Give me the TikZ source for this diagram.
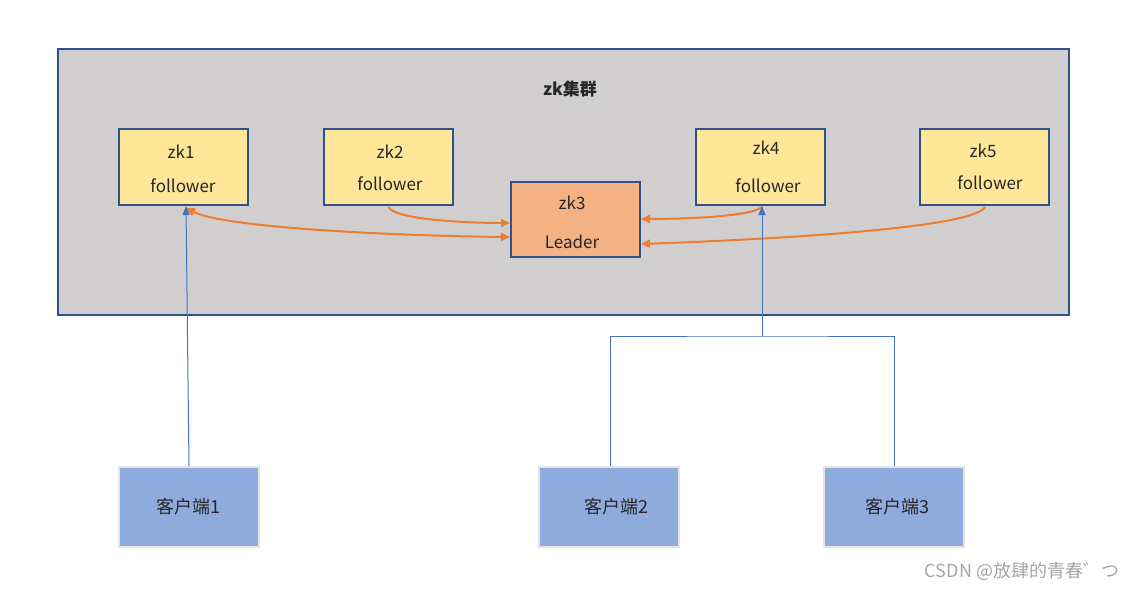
\documentclass[tikz,border=0pt]{standalone}
\usepackage{fontspec}
\setmainfont{Noto Sans CJK SC}
\usetikzlibrary{arrows.meta}
\definecolor{clusterfill}{HTML}{D0CECE}
\definecolor{darkblue}{HTML}{2F528F}
\definecolor{zkyellow}{HTML}{FFE699}
\definecolor{zkorange}{HTML}{F4B183}
\definecolor{linkorange}{HTML}{ED7D31}
\definecolor{linkblue}{HTML}{4472C4}
\definecolor{clientfill}{HTML}{8FAADC}
\definecolor{clientborder}{HTML}{E4E4E4}
\definecolor{markgray}{HTML}{A6A6A6}
\tikzset{
  cluster/.style={draw=darkblue, fill=clusterfill, line width=2pt, minimum width=1011pt, minimum height=266pt, inner sep=0pt},
  zkbox/.style={draw=darkblue, fill=zkyellow, line width=2pt, minimum width=129pt, minimum height=76pt, inner sep=0pt},
  leaderbox/.style={zkbox, fill=zkorange, minimum height=75pt},
  clientbox/.style={draw=clientborder, fill=clientfill, line width=2pt, minimum width=140pt, minimum height=80pt, inner sep=0pt, font=\fontsize{18}{21}\selectfont, text=black!85},
  txt/.style={inner sep=0pt, font=\fontsize{17}{20}\selectfont, text=black!85},
  orangelink/.style={draw=linkorange, line width=2pt, -{Triangle[length=9pt,width=8pt]}},
  bothlink/.style={draw=linkorange, line width=2pt, {Triangle[length=9pt,width=8pt]}-{Triangle[length=9pt,width=8pt]}},
  bluelink/.style={draw=linkblue, line width=1pt, -{Triangle[length=9pt,width=7pt]}},
  blueline/.style={draw=linkblue, line width=1pt},
}
\begin{document}
\begin{tikzpicture}[x=1pt, y=-1pt]
\useasboundingbox[fill=white] (0,0) rectangle (1142,591);
\node[cluster] (cl) at (563.5,182) {};
\node[txt, font=\fontsize{17}{20}\selectfont\bfseries] (title) at (570,89) {zk集群};

\node[zkbox] (zk1) at (183.5,167) {};
\node[zkbox] (zk2) at (388.5,167) {};
\node[leaderbox] (zk3) at (575.5,219.5) {};
\node[zkbox] (zk4) at (760.5,167) {};
\node[zkbox] (zk5) at (984.5,167) {};

\node[txt] (zk1a) at (181,152) {zk1};
\node[txt] (zk1b) at (183,186) {follower};
\node[txt] (zk2a) at (390,152) {zk2};
\node[txt] (zk2b) at (390,184) {follower};
\node[txt] (zk3a) at (572,203) {zk3};
\node[txt] (zk3b) at (572,242) {Leader};
\node[txt] (zk4a) at (766,148) {zk4};
\node[txt] (zk4b) at (768,186) {follower};
\node[txt] (zk5a) at (983,151) {zk5};
\node[txt] (zk5b) at (990,183) {follower};

\node[clientbox] (c1) at (189,507) {\hspace*{-2pt}客户端1};
\node[clientbox] (c2) at (609,507) {\hspace*{14pt}客户端2};
\node[clientbox] (c3) at (894,507) {\hspace*{6pt}客户端3};

% orange links
\draw[bothlink] ([xshift=2.5pt,yshift=-2pt]zk1.south) .. controls (225,228) and (400,236) .. ([yshift=-17.5pt]zk3.west);
\draw[orangelink] ([xshift=0pt,yshift=-1pt]zk2.south) .. controls (395,220) and (470,223) .. ([yshift=-3.5pt]zk3.west);
\draw[orangelink] ([xshift=1.5pt,yshift=-1pt]zk4.south) .. controls (752,216) and (690,219) .. ([yshift=0.5pt]zk3.east);
\draw[orangelink] ([xshift=0.5pt,yshift=-1pt]zk5.south) .. controls (975,226) and (810,238) .. ([yshift=-24.5pt]zk3.east);

% blue links
\coordinate (j) at (762,336);
\draw[bluelink] (c1.north) -- ([xshift=2.5pt]zk1.south);
\draw[bluelink] (j) -- ([xshift=1.5pt]zk4.south);
\draw[blueline] ([xshift=1pt]c2.north) |- (j) -| (c3.north);

\node[inner sep=0pt, text=markgray, font=\fontsize{18}{20}\selectfont] (mark) at (1022,571) {CSDN @放肆的青春゛つ};
\end{tikzpicture}
\end{document}
